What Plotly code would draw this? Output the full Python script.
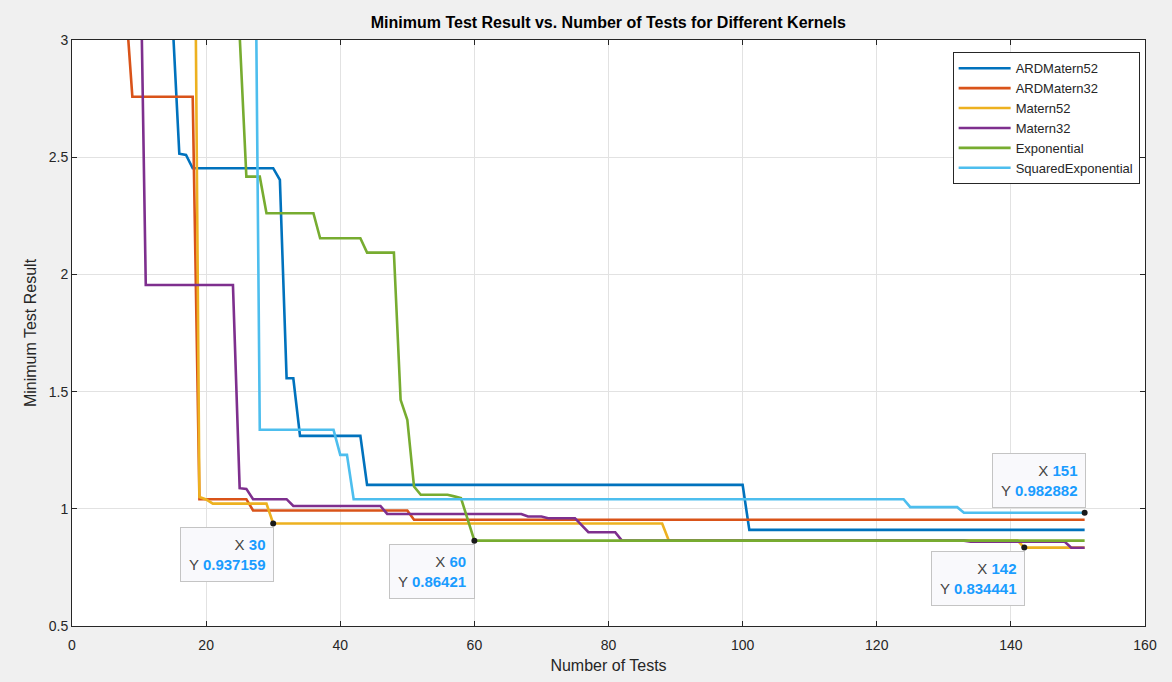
import plotly.graph_objects as go

# Best-so-far objective value after each test, one list of breakpoints per kernel
ard52_x = [15, 16, 17, 18, 30, 31, 32, 33, 34, 43, 44, 100, 101, 151]
ard52_y = [3.08, 2.515, 2.51, 2.453, 2.453, 2.403, 1.557, 1.557, 1.311, 1.311, 1.102, 1.102, 0.910, 0.910]

ard32_x = [8, 9, 18, 19, 26, 27, 50, 51, 151]
ard32_y = [3.16, 2.758, 2.758, 1.041, 1.041, 0.993, 0.993, 0.953, 0.953]

m52_x = [18, 19, 20, 21, 29, 30, 88, 89, 141, 142, 151]
m52_y = [4.75, 1.05, 1.04, 1.022, 1.022, 0.937159, 0.937159, 0.8642, 0.8642, 0.834441, 0.834441]

m32_x = [10, 11, 24, 25, 26, 27, 32, 33, 46, 47, 67, 68, 70, 71, 75, 77, 81, 82, 133, 134, 148, 149, 151]
m32_y = [3.75, 1.955, 1.955, 1.088, 1.085, 1.041, 1.041, 1.012, 1.012, 0.978, 0.978, 0.967, 0.967,
         0.960, 0.960, 0.900, 0.900, 0.8642, 0.8642, 0.860, 0.860, 0.834, 0.834]

exp_x = [25, 26, 28, 29, 36, 37, 43, 44, 48, 49, 50, 51, 52, 56, 57, 58, 60, 151]
exp_y = [3.02, 2.417, 2.417, 2.261, 2.261, 2.154, 2.154, 2.093, 2.093, 1.465, 1.380, 1.095,
         1.060, 1.060, 1.053, 1.046, 0.86421, 0.86421]

sqexp_x = [27, 28, 39, 40, 41, 42, 124, 125, 132, 133, 151]
sqexp_y = [4.6, 1.337, 1.337, 1.230, 1.230, 1.041, 1.041, 1.007, 1.007, 0.982882, 0.982882]

kernel_names = ["ARDMatern52", "ARDMatern32", "Matern52", "Matern32", "Exponential", "SquaredExponential"]
kernel_colors = ["#0072BD", "#D95319", "#EDB120", "#7E2F8E", "#77AC30", "#4DBEEE"]
series = [(ard52_x, ard52_y), (ard32_x, ard32_y), (m52_x, m52_y),
          (m32_x, m32_y), (exp_x, exp_y), (sqexp_x, sqexp_y)]

# Data tips: (kernel index, test number, box placement)
tip_kernel = [2, 4, 2, 5]
tip_x = [30, 60, 142, 151]
tip_side = ["below", "below", "below", "above"]

FONT = "Liberation Sans, Arial, Helvetica, sans-serif"
AX = "#262626"

fig = go.Figure()
for name, color, (xs, ys) in zip(kernel_names, kernel_colors, series):
    fig.add_trace(go.Scatter(x=xs, y=ys, mode="lines", name=name,
                             line=dict(color=color, width=2.6)))

tip_px, tip_py = [], []
for k, xv in zip(tip_kernel, tip_x):
    xs, ys = series[k]
    tip_px.append(xv)
    tip_py.append(ys[xs.index(xv)])

fig.add_trace(go.Scatter(x=tip_px, y=tip_py, mode="markers", showlegend=False,
                         marker=dict(color="#1a1a1a", size=6), hoverinfo="skip"))

VAL = "#1a9cff"
LAB = "#444444"
for xv, yv, side in zip(tip_px, tip_py, tip_side):
    ystr = f"{yv:.6g}"
    txt = (f"<span style='color:{LAB}'>X</span> <b><span style='color:{VAL}'>{xv}</span></b><br>"
           f"<span style='color:{LAB}'>Y</span> <b><span style='color:{VAL}'>{ystr}</span></b>")
    fig.add_annotation(x=xv, y=yv, xref="x", yref="y", text=txt, showarrow=False,
                       xanchor="right", yanchor="top" if side == "below" else "bottom",
                       yshift=-3 if side == "below" else 5, xshift=1,
                       align="right", font=dict(family=FONT, size=15),
                       bgcolor="#f9f9fc", bordercolor="#c4c4c4", borderwidth=1, borderpad=8)

fig.update_layout(
    width=1172, height=682,
    margin=dict(l=72, r=27, t=40, b=56),
    paper_bgcolor="#f0f0f0", plot_bgcolor="#ffffff",
    font=dict(family=FONT, color=AX, size=13),
    title=dict(text="<b>Minimum Test Result vs. Number of Tests for Different Kernels</b>",
               x=0.519, xanchor="center", y=0.967, yanchor="middle",
               font=dict(family=FONT, size=16, color="#000000")),
    legend=dict(x=0.995, y=0.979, xanchor="right", yanchor="top",
                bgcolor="#ffffff", bordercolor=AX, borderwidth=1, itemwidth=52,
                font=dict(family=FONT, size=13, color=AX), tracegroupgap=0),
    showlegend=True,
)
fig.update_xaxes(range=[0, 160], dtick=20, showgrid=True, gridcolor="#e2e2e2", gridwidth=1,
                 zeroline=False, showline=True, linecolor=AX, linewidth=1, mirror="ticks",
                 ticks="inside", ticklen=5, tickcolor=AX, ticklabelstandoff=6, automargin=False,
                 title=dict(text="Number of Tests", font=dict(family=FONT, size=16, color=AX), standoff=8),
                 tickfont=dict(family=FONT, size=14, color=AX))
fig.update_yaxes(range=[0.5, 3], dtick=0.5, showgrid=True, gridcolor="#e2e2e2", gridwidth=1,
                 zeroline=False, showline=True, linecolor=AX, linewidth=1, mirror="ticks",
                 ticks="inside", ticklen=5, tickcolor=AX,
                 title=dict(text="Minimum Test Result", font=dict(family=FONT, size=16, color=AX), standoff=8),
                 tickfont=dict(family=FONT, size=14, color=AX))

fig.write_html("out.html")
